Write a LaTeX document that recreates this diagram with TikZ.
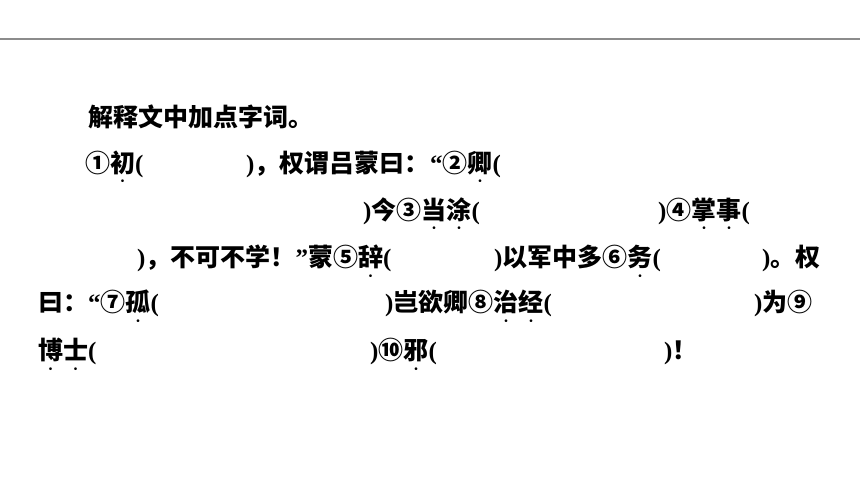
\documentclass[tikz,border=0pt]{standalone}
\usepackage{fontspec}
\setmainfont{Liberation Serif}
\newfontfamily\cjk{Noto Sans CJK SC}
\newfontfamily\latn{Liberation Serif}
\newcommand\zlp{{\latn\bfseries(}}
\newcommand\zrp{{\latn\bfseries)}}
\newcommand\zq[1]{{\latn\bfseries#1}}
\newcommand\zd[1]{\leavevmode\setbox0\hbox{#1}\rlap{\hbox to\wd0{\hss\raisebox{-13pt}{\latn\fontsize{10pt}{10pt}\selectfont\textbullet}\hss}}\box0}
\tikzset{seg/.style={anchor=base west, inner sep=0pt, font=\cjk\bfseries\fontsize{25}{25}\selectfont}}
\begin{document}
\begin{tikzpicture}[x=1pt, y=-1pt]
                    \useasboundingbox (0,0) rectangle (860,484);
                    \coordinate (rl) at (0,39.5);
                    \coordinate (rr) at (860,39.5);
                    \draw[black!45, line width=2pt] (rl) -- (rr);
                    \node[seg] (head) at (88,127) {解释文中加点字词。};
                    \node[seg] (l2a) at (85,172) {①\zd{初}\zlp};
                    \node[seg] (l2b) at (246,172) {\zrp{}，权谓吕蒙曰：};
                    \node[seg] (l2c) at (430,172) {\zq{“}②\zd{卿}\zlp};
                    \node[seg] (l3a) at (363,219) {\zrp{}今③\zd{当}\zd{涂}\zlp};
                    \node[seg] (l3b) at (658,219) {\zrp{}④\zd{掌}\zd{事}\zlp};
                    \node[seg] (l4a) at (137,266) {\zrp{}，不可不学！\zq{”}蒙⑤\zd{辞}\zlp};
                    \node[seg] (l4b) at (494,266) {\zrp{}以军中多⑥\zd{务}\zlp};
                    \node[seg] (l4c) at (762,266) {\zrp{}。权};
                    \node[seg] (l5a) at (38,311) {曰：\zq{“}⑦\zd{孤}\zlp};
                    \node[seg] (l5b) at (385,311) {\zrp{}岂欲卿⑧\zd{治}\zd{经}\zlp};
                    \node[seg] (l5c) at (754,311) {\zrp{}为⑨};
                    \node[seg] (l6a) at (38,359) {\zd{博}\zd{士}\zlp};
                    \node[seg] (l6b) at (370,359) {\zrp{}⑩\zd{邪}\zlp};
                    \node[seg] (l6c) at (664,359) {\zrp{}！};
                \end{tikzpicture}
\end{document}
